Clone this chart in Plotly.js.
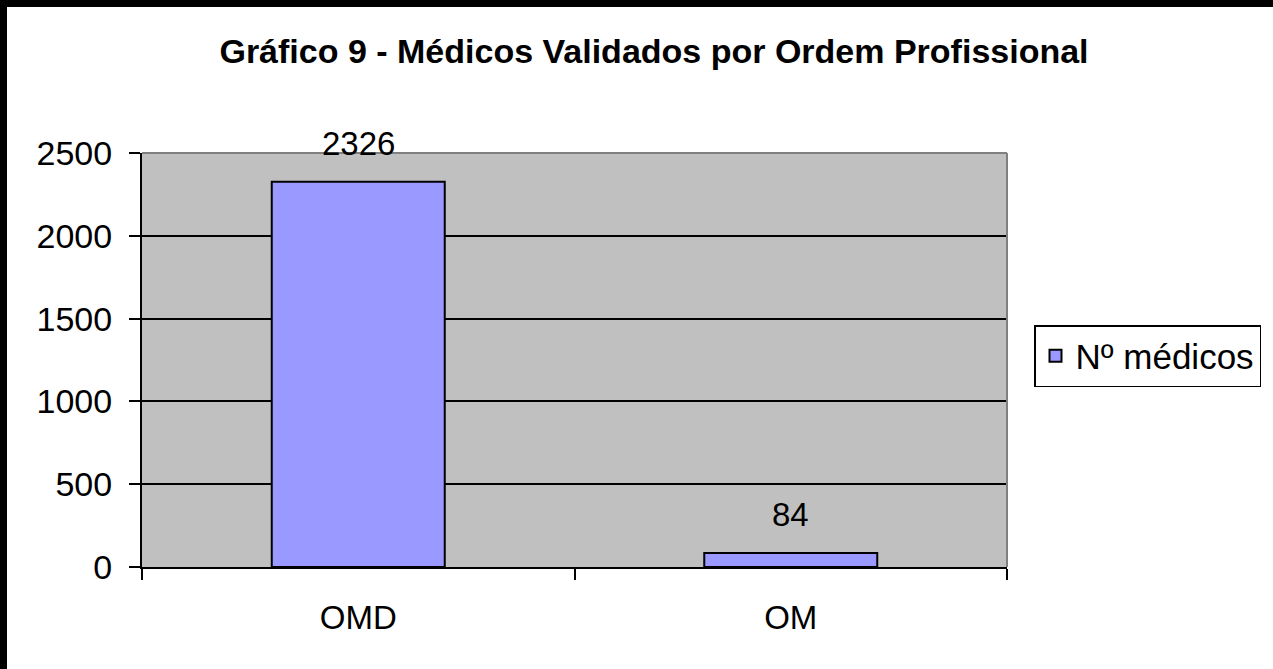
<!DOCTYPE html>
<html>
<head>
<meta charset="utf-8">
<script src="https://cdn.plot.ly/plotly-3.0.1.min.js"></script>
<style>
html,body{margin:0;padding:0;background:#fff;}
#chart{width:1273px;height:669px;}
</style>
</head>
<body>
<div id="chart"></div>
<script>
var categories = ["OMD", "OM"];
var values = [2326, 84];
var seriesName = "Nº médicos";
var yTicks = [0, 500, 1000, 1500, 2000, 2500];
var titleText = "Gráfico 9 - Médicos Validados por Ordem Profissional";

var W = 1273, H = 669;
var mL = 142, mR = 266, mT = 153, mB = 102;
var pw = W - mL - mR, ph = H - mT - mB;
function px2x(p){ return (p - mL) / pw; }
function px2y(p){ return (H - mB - p) / ph; }

var font = "Liberation Sans, Arial, sans-serif";

var trace = {
  type: "bar",
  x: categories,
  y: values,
  name: seriesName,
  marker: {color: "#9999FF", line: {color: "#000", width: 2}},
  hoverinfo: "none"
};

var annotations = categories.map(function(c, i){
  return {
    x: c, y: values[i], xref: "x", yref: "y",
    text: String(values[i]), showarrow: false,
    yanchor: "bottom", yshift: 18,
    font: {family: font, size: 33, color: "#000"}
  };
});

var layout = {
  width: W, height: H,
  margin: {l: mL, r: mR, t: mT, b: mB, pad: 0},
  paper_bgcolor: "#fff",
  plot_bgcolor: "#C0C0C0",
  showlegend: true,
  bargap: 0.6,
  font: {family: font, size: 33, color: "#000"},
  title: {
    text: "<b>" + titleText + "</b>",
    font: {family: font, size: 34, color: "#000"},
    xref: "container", yref: "container",
    x: 654 / W, xanchor: "center",
    y: 1 - 51 / H, yanchor: "middle"
  },
  xaxis: {
    type: "category",
    showgrid: false,
    showline: true, linecolor: "#000", linewidth: 2,
    ticks: "outside", tickson: "boundaries", ticklen: 11, tickwidth: 2, tickcolor: "#000",
    ticklabelstandoff: 20,
    tickfont: {family: font, size: 33, color: "#000"},
    zeroline: false, fixedrange: true
  },
  yaxis: {
    range: [0, 2500],
    tickvals: yTicks,
    ticktext: yTicks.map(String),
    showgrid: true, gridcolor: "#000", gridwidth: 2,
    showline: true, linecolor: "#000", linewidth: 2,
    ticks: "outside", ticklen: 11, tickwidth: 2, tickcolor: "#000",
    ticklabelstandoff: 10,
    tickfont: {family: font, size: 34, color: "#000"},
    zeroline: false, fixedrange: true
  },
  legend: {
    x: px2x(1034), xanchor: "left",
    y: px2y(356), yanchor: "middle",
    bgcolor: "#fff",
    bordercolor: "#000", borderwidth: 1.5,
    font: {family: font, size: 35, color: "#000"},
    itemclick: false, itemdoubleclick: false
  },
  annotations: annotations,
  shapes: [
    {type: "line", xref: "paper", yref: "paper", x0: 0, x1: 1, y0: 1, y1: 1, line: {color: "#808080", width: 2}},
    {type: "line", xref: "paper", yref: "paper", x0: 1, x1: 1, y0: 0, y1: 1, line: {color: "#808080", width: 2}},
    {type: "rect", xref: "paper", yref: "paper", x0: px2x(0), x1: px2x(W), y0: px2y(0), y1: px2y(7), fillcolor: "#000", line: {width: 0}},
    {type: "rect", xref: "paper", yref: "paper", x0: px2x(0), x1: px2x(7), y0: px2y(0), y1: px2y(H), fillcolor: "#000", line: {width: 0}}
  ]
};

Plotly.newPlot("chart", [trace], layout, {displayModeBar: false, staticPlot: true});
</script>
</body>
</html>
